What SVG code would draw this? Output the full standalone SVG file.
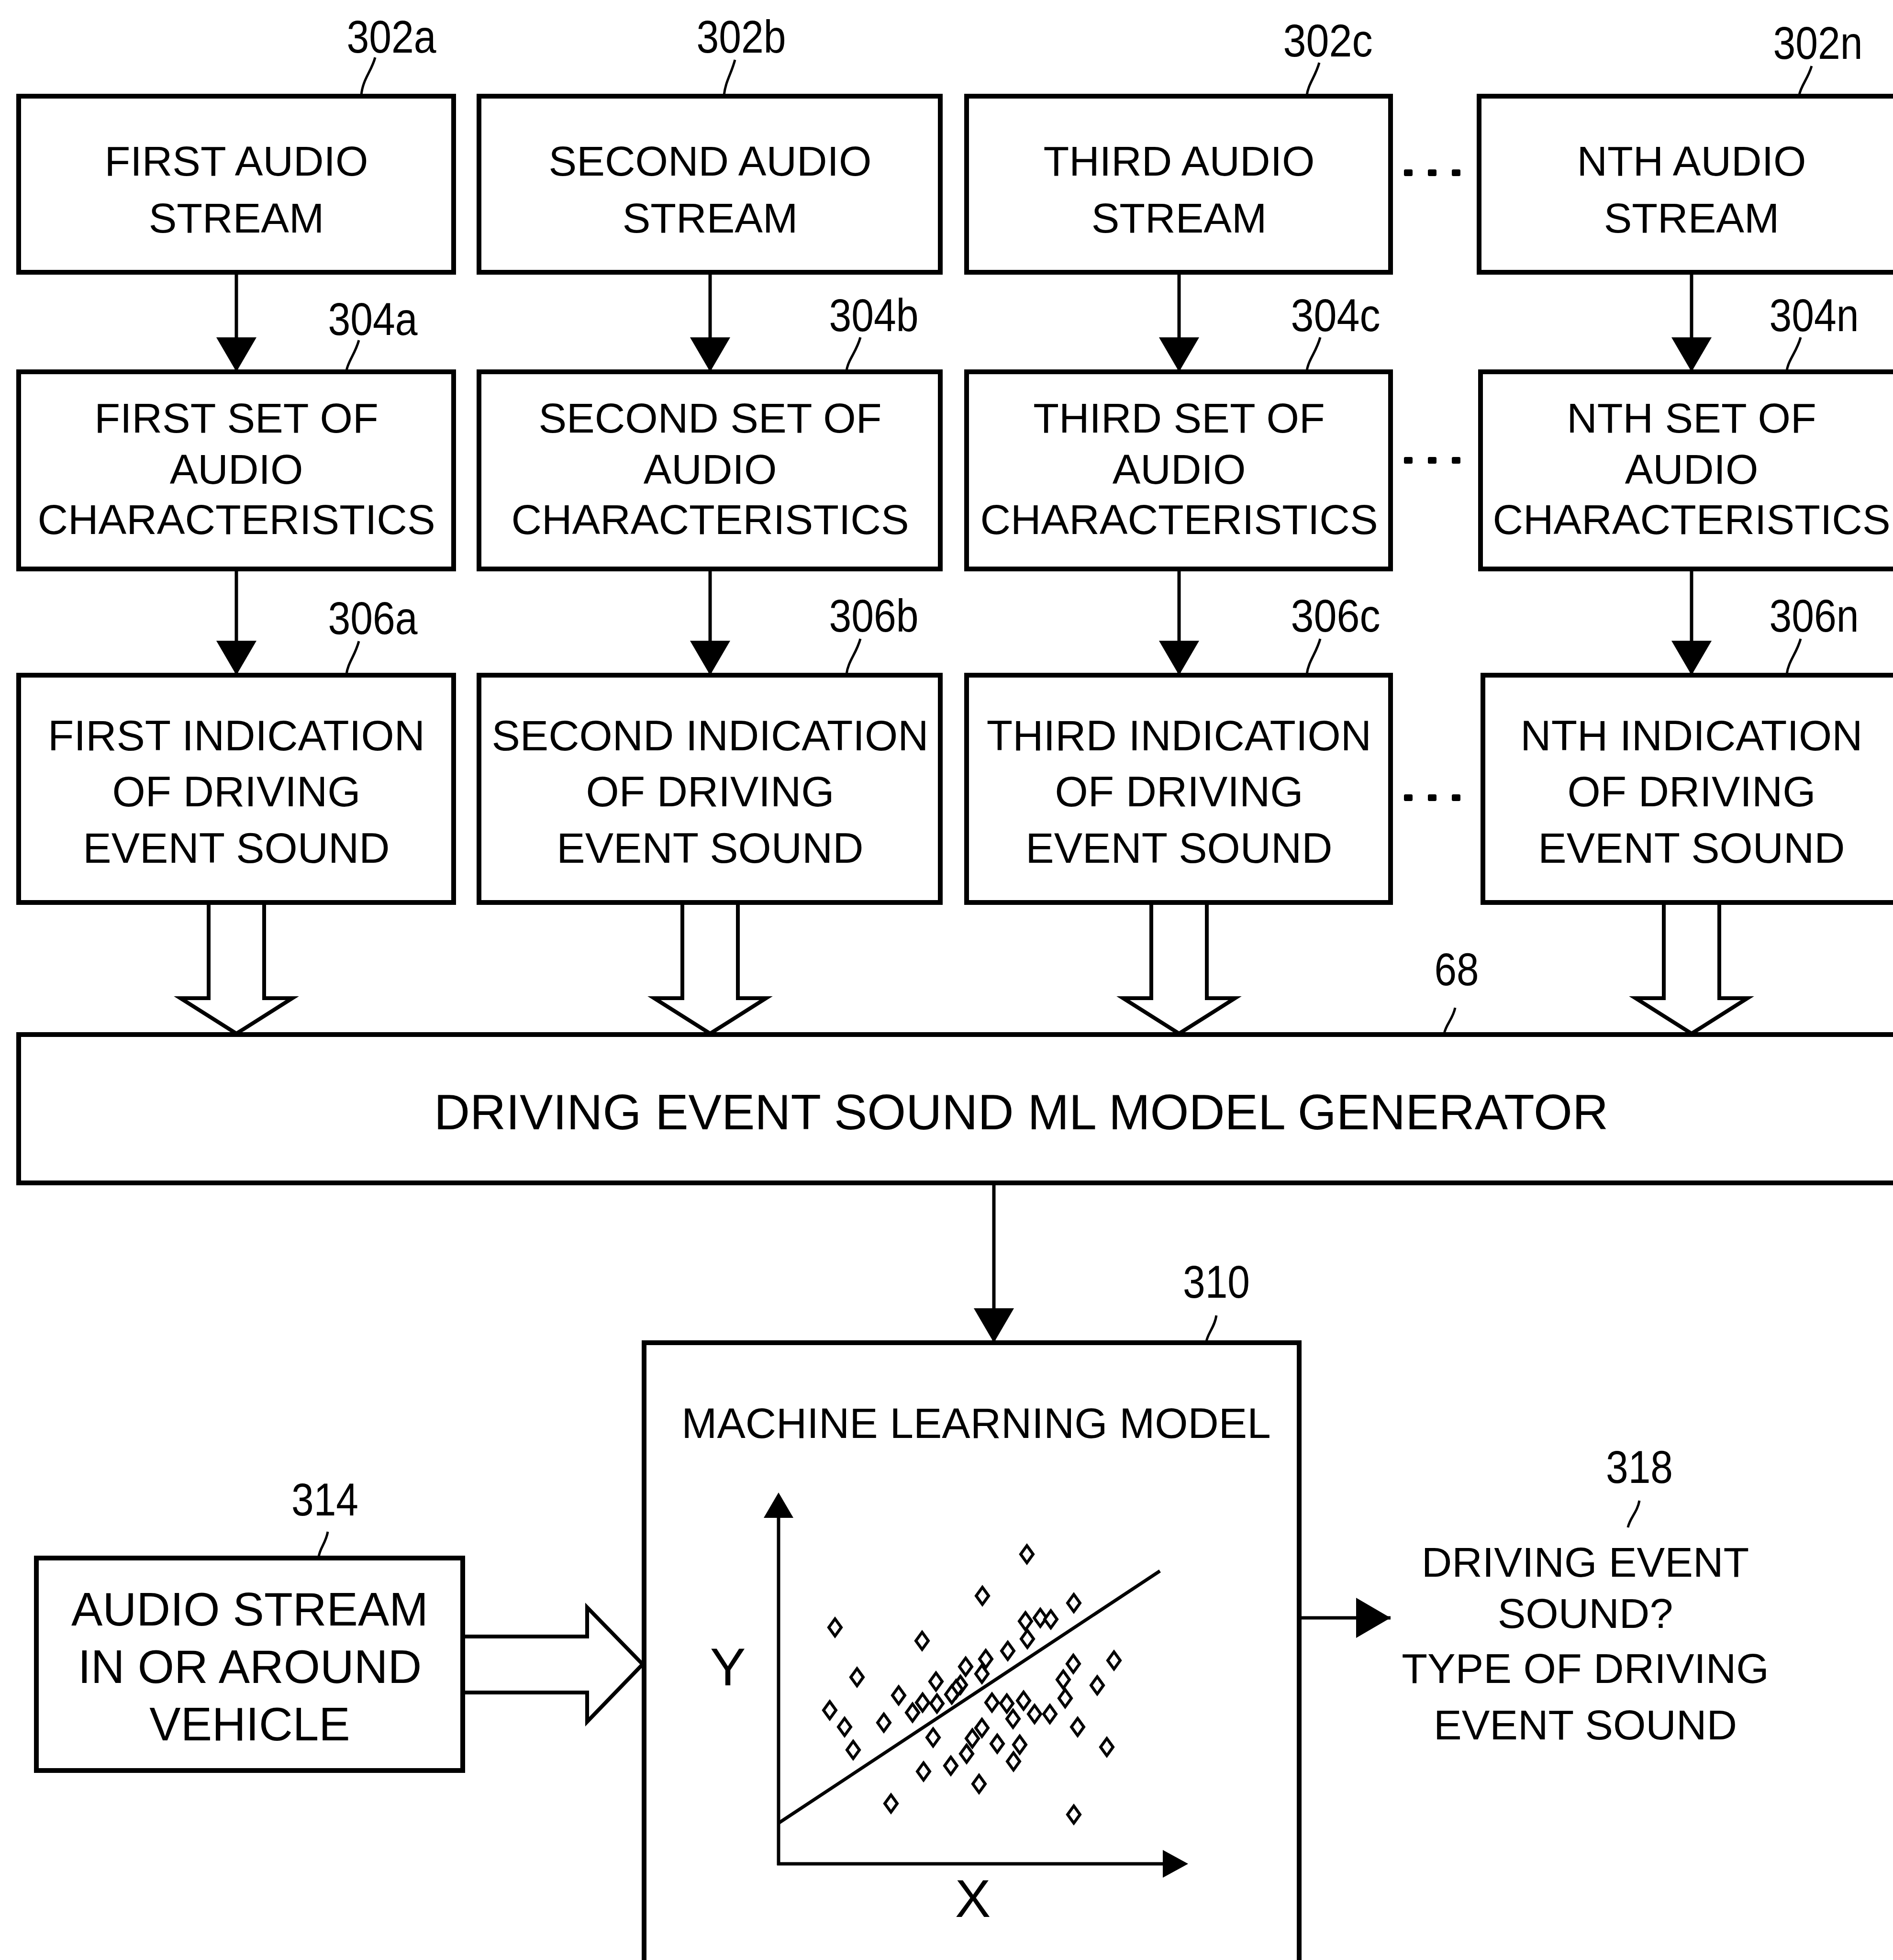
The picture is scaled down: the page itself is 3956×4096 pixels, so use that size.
<svg xmlns="http://www.w3.org/2000/svg" width="3956" height="4096" viewBox="0 0 3956 4096">
<style>
.box{fill:#fff;stroke:#000;stroke-width:10}
.t{font-family:"Liberation Sans",Arial,sans-serif;font-size:88px;text-anchor:middle;fill:#000}
.r3{font-size:89px}
.big{font-size:104px}
.lbl{font-family:"Liberation Sans",Arial,sans-serif;font-size:96px;text-anchor:middle;fill:#000}
.lead{fill:none;stroke:#000;stroke-width:5}
.conn{fill:none;stroke:#000;stroke-width:7}
.hollow{fill:#fff;stroke:#000;stroke-width:8;stroke-linejoin:miter}
.dot{fill:#000}
.dm{fill:#fff;stroke:#000;stroke-width:6}
</style>
<defs>
<marker id="ah" viewBox="0 0 72 84" refX="72" refY="42" markerWidth="72" markerHeight="84" markerUnits="userSpaceOnUse" orient="auto">
<path d="M0,0 L72,42 L0,84 Z" fill="#000"/>
</marker>
<path id="dm" class="dm" d="M0,-18 L13,0 L0,18 L-13,0 Z"/>
</defs>
<rect width="3956" height="4096" fill="#fff"/>

<g id="connectors">
<line class="conn" x1="494" y1="569" x2="494" y2="777" marker-end="url(#ah)"/>
<line class="conn" x1="1484" y1="569" x2="1484" y2="777" marker-end="url(#ah)"/>
<line class="conn" x1="2464" y1="569" x2="2464" y2="777" marker-end="url(#ah)"/>
<line class="conn" x1="3535" y1="569" x2="3535" y2="777" marker-end="url(#ah)"/>
<line class="conn" x1="494" y1="1189" x2="494" y2="1411" marker-end="url(#ah)"/>
<line class="conn" x1="1484" y1="1189" x2="1484" y2="1411" marker-end="url(#ah)"/>
<line class="conn" x1="2464" y1="1189" x2="2464" y2="1411" marker-end="url(#ah)"/>
<line class="conn" x1="3535" y1="1189" x2="3535" y2="1411" marker-end="url(#ah)"/>
<path class="hollow" d="M436,1886 V2086 H377 L494,2160 L611,2086 H552 V1886"/>
<path class="hollow" d="M1426,1886 V2086 H1367 L1484,2160 L1601,2086 H1542 V1886"/>
<path class="hollow" d="M2406,1886 V2086 H2347 L2464,2160 L2581,2086 H2522 V1886"/>
<path class="hollow" d="M3477,1886 V2086 H3418 L3535,2160 L3652,2086 H3593 V1886"/>
<line class="conn" x1="2077" y1="2472" x2="2077" y2="2806" marker-end="url(#ah)"/>
<path class="hollow" d="M967,3420 H1227 V3359 L1343,3478 L1227,3598 V3537 H967"/>
<line class="conn" x1="2715" y1="3381" x2="2906" y2="3381" marker-end="url(#ah)"/>
</g>

<g id="n302a">
<rect class="box" x="39" y="201" width="909" height="368"/>
<text class="t" x="494" y="367">FIRST AUDIO</text>
<text class="t" x="494" y="486">STREAM</text>
<text class="lbl" x="818" y="110" textLength="187" lengthAdjust="spacingAndGlyphs">302a</text>
<path class="lead" d="M784,120 C776,150 758,165 755,199"/>
</g>
<g id="n302b">
<rect class="box" x="1001" y="201" width="964" height="368"/>
<text class="t" x="1484" y="367">SECOND AUDIO</text>
<text class="t" x="1484" y="486">STREAM</text>
<text class="lbl" x="1549" y="110" textLength="187" lengthAdjust="spacingAndGlyphs">302b</text>
<path class="lead" d="M1536,125 C1528,155 1516,170 1513,199"/>
</g>
<g id="n302c">
<rect class="box" x="2020" y="201" width="886" height="368"/>
<text class="t" x="2464" y="367">THIRD AUDIO</text>
<text class="t" x="2464" y="486">STREAM</text>
<text class="lbl" x="2775" y="118" textLength="187" lengthAdjust="spacingAndGlyphs">302c</text>
<path class="lead" d="M2757,131 C2749,160 2734,175 2731,199"/>
</g>
<g id="n302n">
<rect class="box" x="3091" y="201" width="900" height="368"/>
<text class="t" x="3535" y="367">NTH AUDIO</text>
<text class="t" x="3535" y="486">STREAM</text>
<text class="lbl" x="3799" y="123" textLength="187" lengthAdjust="spacingAndGlyphs">302n</text>
<path class="lead" d="M3786,138 C3778,165 3763,180 3760,199"/>
</g>

<g id="n304a">
<rect class="box" x="39" y="777" width="909" height="412"/>
<text class="t" x="494" y="904">FIRST SET OF</text>
<text class="t" x="494" y="1011">AUDIO</text>
<text class="t" x="494" y="1116">CHARACTERISTICS</text>
<text class="lbl" x="779" y="700" textLength="187" lengthAdjust="spacingAndGlyphs">304a</text>
<path class="lead" d="M750,711 C742,740 727,755 724,775"/>
</g>
<g id="n304b">
<rect class="box" x="1001" y="777" width="964" height="412"/>
<text class="t" x="1484" y="904">SECOND SET OF</text>
<text class="t" x="1484" y="1011">AUDIO</text>
<text class="t" x="1484" y="1116">CHARACTERISTICS</text>
<text class="lbl" x="1826" y="692" textLength="187" lengthAdjust="spacingAndGlyphs">304b</text>
<path class="lead" d="M1798,705 C1790,735 1772,752 1769,775"/>
</g>
<g id="n304c">
<rect class="box" x="2020" y="777" width="886" height="412"/>
<text class="t" x="2464" y="904">THIRD SET OF</text>
<text class="t" x="2464" y="1011">AUDIO</text>
<text class="t" x="2464" y="1116">CHARACTERISTICS</text>
<text class="lbl" x="2791" y="692" textLength="187" lengthAdjust="spacingAndGlyphs">304c</text>
<path class="lead" d="M2759,705 C2751,735 2734,752 2731,775"/>
</g>
<g id="n304n">
<rect class="box" x="3094" y="777" width="900" height="412"/>
<text class="t" x="3535" y="904">NTH SET OF</text>
<text class="t" x="3535" y="1011">AUDIO</text>
<text class="t" x="3535" y="1116">CHARACTERISTICS</text>
<text class="lbl" x="3791" y="692" textLength="187" lengthAdjust="spacingAndGlyphs">304n</text>
<path class="lead" d="M3763,705 C3755,735 3737,752 3734,775"/>
</g>

<g id="n306a">
<rect class="box" x="39" y="1411" width="909" height="475"/>
<text class="t r3" x="494" y="1568">FIRST INDICATION</text>
<text class="t r3" x="494" y="1685">OF DRIVING</text>
<text class="t r3" x="494" y="1803">EVENT SOUND</text>
<text class="lbl" x="779" y="1325" textLength="187" lengthAdjust="spacingAndGlyphs">306a</text>
<path class="lead" d="M750,1340 C742,1370 727,1385 724,1409"/>
</g>
<g id="n306b">
<rect class="box" x="1001" y="1411" width="964" height="475"/>
<text class="t r3" x="1484" y="1568">SECOND INDICATION</text>
<text class="t r3" x="1484" y="1685">OF DRIVING</text>
<text class="t r3" x="1484" y="1803">EVENT SOUND</text>
<text class="lbl" x="1826" y="1320" textLength="187" lengthAdjust="spacingAndGlyphs">306b</text>
<path class="lead" d="M1798,1335 C1790,1365 1772,1382 1769,1409"/>
</g>
<g id="n306c">
<rect class="box" x="2020" y="1411" width="886" height="475"/>
<text class="t r3" x="2464" y="1568">THIRD INDICATION</text>
<text class="t r3" x="2464" y="1685">OF DRIVING</text>
<text class="t r3" x="2464" y="1803">EVENT SOUND</text>
<text class="lbl" x="2791" y="1320" textLength="187" lengthAdjust="spacingAndGlyphs">306c</text>
<path class="lead" d="M2759,1335 C2751,1365 2734,1382 2731,1409"/>
</g>
<g id="n306n">
<rect class="box" x="3099" y="1411" width="900" height="475"/>
<text class="t r3" x="3535" y="1568">NTH INDICATION</text>
<text class="t r3" x="3535" y="1685">OF DRIVING</text>
<text class="t r3" x="3535" y="1803">EVENT SOUND</text>
<text class="lbl" x="3791" y="1320" textLength="187" lengthAdjust="spacingAndGlyphs">306n</text>
<path class="lead" d="M3763,1335 C3755,1365 3737,1382 3734,1409"/>
</g>

<g id="ellipsis">
<rect class="dot" x="2934" y="354" width="18" height="14" rx="3"/>
<rect class="dot" x="2984" y="354" width="18" height="14" rx="3"/>
<rect class="dot" x="3034" y="354" width="18" height="14" rx="3"/>
<rect class="dot" x="2934" y="955" width="18" height="14" rx="3"/>
<rect class="dot" x="2984" y="955" width="18" height="14" rx="3"/>
<rect class="dot" x="3034" y="955" width="18" height="14" rx="3"/>
<rect class="dot" x="2934" y="1660" width="18" height="14" rx="3"/>
<rect class="dot" x="2984" y="1660" width="18" height="14" rx="3"/>
<rect class="dot" x="3034" y="1660" width="18" height="14" rx="3"/>
</g>

<g id="n68">
<rect class="box" x="39" y="2162" width="3960" height="310"/>
<text class="t big" x="2134" y="2360">DRIVING EVENT SOUND ML MODEL GENERATOR</text>
<text class="lbl" x="3044" y="2059" textLength="93" lengthAdjust="spacingAndGlyphs">68</text>
<path class="lead" d="M3041,2106 C3036,2130 3022,2140 3018,2160"/>
</g>

<g id="n310">
<rect class="box" x="1346" y="2806" width="1369" height="1340"/>
<text class="t" x="2040" y="3005" style="font-size:89px">MACHINE LEARNING MODEL</text>
<text class="lbl" x="2542" y="2712" textLength="140" lengthAdjust="spacingAndGlyphs">310</text>
<path class="lead" d="M2542,2749 C2538,2775 2524,2785 2521,2804"/>
<g id="chart">
<line x1="1627" y1="3165" x2="1627" y2="3898" stroke="#000" stroke-width="7"/>
<path d="M1596,3172 L1627,3119 L1658,3172 Z" fill="#000"/>
<line x1="1624" y1="3895" x2="2435" y2="3895" stroke="#000" stroke-width="7"/>
<path d="M2430,3866 L2483,3895 L2430,3924 Z" fill="#000"/>
<line x1="1627" y1="3810" x2="2424" y2="3283" stroke="#000" stroke-width="7"/>
<text class="t" x="1521" y="3522" style="font-size:112px">Y</text>
<text class="t" x="2033" y="4006" style="font-size:112px">X</text>
<use href="#dm" x="2146" y="3248"/>
<use href="#dm" x="2053" y="3335"/>
<use href="#dm" x="2244" y="3350"/>
<use href="#dm" x="1745" y="3401"/>
<use href="#dm" x="1927" y="3429"/>
<use href="#dm" x="2143" y="3388"/>
<use href="#dm" x="2174" y="3381"/>
<use href="#dm" x="2196" y="3384"/>
<use href="#dm" x="2147" y="3425"/>
<use href="#dm" x="2106" y="3450"/>
<use href="#dm" x="1791" y="3505"/>
<use href="#dm" x="2060" y="3467"/>
<use href="#dm" x="2018" y="3483"/>
<use href="#dm" x="2052" y="3498"/>
<use href="#dm" x="2243" y="3477"/>
<use href="#dm" x="2328" y="3470"/>
<use href="#dm" x="1956" y="3514"/>
<use href="#dm" x="2007" y="3521"/>
<use href="#dm" x="1998" y="3530"/>
<use href="#dm" x="1989" y="3541"/>
<use href="#dm" x="1878" y="3543"/>
<use href="#dm" x="2222" y="3510"/>
<use href="#dm" x="2293" y="3522"/>
<use href="#dm" x="1734" y="3574"/>
<use href="#dm" x="1907" y="3579"/>
<use href="#dm" x="1928" y="3558"/>
<use href="#dm" x="1958" y="3560"/>
<use href="#dm" x="2073" y="3558"/>
<use href="#dm" x="2104" y="3560"/>
<use href="#dm" x="2139" y="3554"/>
<use href="#dm" x="2226" y="3549"/>
<use href="#dm" x="2117" y="3592"/>
<use href="#dm" x="2162" y="3582"/>
<use href="#dm" x="2194" y="3582"/>
<use href="#dm" x="1765" y="3609"/>
<use href="#dm" x="1847" y="3600"/>
<use href="#dm" x="2052" y="3611"/>
<use href="#dm" x="2252" y="3609"/>
<use href="#dm" x="1950" y="3631"/>
<use href="#dm" x="2032" y="3633"/>
<use href="#dm" x="2084" y="3644"/>
<use href="#dm" x="2131" y="3646"/>
<use href="#dm" x="1783" y="3657"/>
<use href="#dm" x="2020" y="3665"/>
<use href="#dm" x="2313" y="3651"/>
<use href="#dm" x="2118" y="3681"/>
<use href="#dm" x="1987" y="3690"/>
<use href="#dm" x="1930" y="3702"/>
<use href="#dm" x="2046" y="3728"/>
<use href="#dm" x="1862" y="3769"/>
<use href="#dm" x="2244" y="3792"/>
</g>
</g>

<g id="n314">
<rect class="box" x="76" y="3256" width="891" height="444"/>
<text class="t" x="522" y="3397" style="font-size:98px">AUDIO STREAM</text>
<text class="t" x="522" y="3517" style="font-size:98px">IN OR AROUND</text>
<text class="t" x="522" y="3637" style="font-size:98px">VEHICLE</text>
<text class="lbl" x="679" y="3167" textLength="140" lengthAdjust="spacingAndGlyphs">314</text>
<path class="lead" d="M685,3201 C681,3225 668,3235 666,3254"/>
</g>

<g id="n318">
<text class="t" x="3313" y="3295" style="font-size:88px">DRIVING EVENT</text>
<text class="t" x="3313" y="3402" style="font-size:88px">SOUND?</text>
<text class="t" x="3313" y="3517" style="font-size:88px">TYPE OF DRIVING</text>
<text class="t" x="3313" y="3635" style="font-size:88px">EVENT SOUND</text>
<text class="lbl" x="3426" y="3099" textLength="140" lengthAdjust="spacingAndGlyphs">318</text>
<path class="lead" d="M3426,3136 C3422,3160 3406,3172 3402,3192"/>
</g>
</svg>
